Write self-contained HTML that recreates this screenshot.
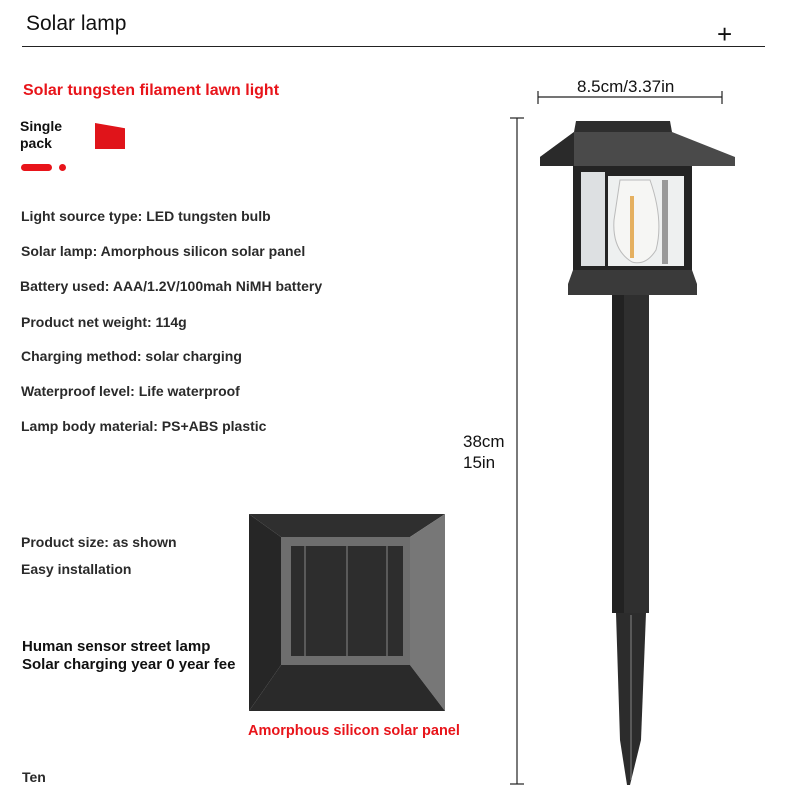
<!DOCTYPE html>
<html><head><meta charset="utf-8"><style>
body{margin:0;background:#fff;}
#c{position:relative;width:800px;height:800px;overflow:hidden;font-family:"Liberation Sans",sans-serif;}
.t{position:absolute;white-space:nowrap;color:#222;font-size:14px;font-weight:bold;}
.s{font-family:"Liberation Sans",sans-serif;font-size:14px;font-weight:bold;color:#2a2a2a;}
</style></head><body><div id="c">
<div class="t" style="left:26px;top:12px;font-size:21px;font-weight:normal;color:#111">Solar lamp</div>
<div style="position:absolute;left:22px;top:46px;width:743px;height:1px;background:#222"></div>
<div class="t" style="left:717px;top:19px;font-size:26px;font-weight:normal;color:#111">+</div>
<div class="t s" style="left:23px;top:82px;color:#e8141a;font-size:16px">Solar tungsten filament lawn light</div>
<div class="t s" style="left:20px;top:118px;color:#111;line-height:17px;font-size:14px">Single<br>pack</div>
<div style="position:absolute;left:95px;top:123px;width:30px;height:26px;background:#e0141a;clip-path:polygon(0 0,100% 20%,100% 100%,0 100%)"></div>
<div style="position:absolute;left:21px;top:164px;width:31px;height:7px;border-radius:4px;background:#e8141a"></div>
<div style="position:absolute;left:59px;top:164px;width:7px;height:7px;border-radius:4px;background:#e8141a"></div>
<div class="t s" style="left:21px;top:208px">Light source type: LED tungsten bulb</div>
<div class="t s" style="left:21px;top:243px">Solar lamp: Amorphous silicon solar panel</div>
<div class="t s" style="left:20px;top:278px">Battery used: AAA/1.2V/100mah NiMH battery</div>
<div class="t s" style="left:21px;top:314px">Product net weight: 114g</div>
<div class="t s" style="left:21px;top:348px">Charging method: solar charging</div>
<div class="t s" style="left:21px;top:383px">Waterproof level: Life waterproof</div>
<div class="t s" style="left:21px;top:418px">Lamp body material: PS+ABS plastic</div>
<div class="t s" style="left:21px;top:534px">Product size: as shown</div>
<div class="t s" style="left:21px;top:561px">Easy installation</div>
<div class="t" style="left:22px;top:638px;font-size:15px;color:#111">Human sensor street lamp</div>
<div class="t" style="left:22px;top:656px;font-size:15px;color:#111">Solar charging year 0 year fee</div>
<div class="t s" style="left:248px;top:723px;color:#e8141a;font-size:14.5px">Amorphous silicon solar panel</div>
<div class="t s" style="left:22px;top:769px">Ten</div>
<div class="t" style="left:577px;top:77px;font-size:17px;font-weight:normal;color:#111">8.5cm/3.37in</div>
<div class="t" style="left:463px;top:431px;font-size:17px;font-weight:normal;color:#111;line-height:21px">38cm<br>15in</div>
<svg width="800" height="800" style="position:absolute;left:0;top:0">
<g stroke="#222" stroke-width="1.2">
<line x1="538" y1="97" x2="722" y2="97"/><line x1="538" y1="91" x2="538" y2="104"/><line x1="722" y1="91" x2="722" y2="104"/>
<line x1="517" y1="118" x2="517" y2="784"/><line x1="510" y1="118" x2="524" y2="118"/><line x1="510" y1="784" x2="524" y2="784"/>
</g>
<polygon points="576,121 670,121 672,132 574,132" fill="#2e2e2e"/>
<polygon points="574,132 672,132 735,157 735,166 540,166 540,157" fill="#4a4a4a"/>
<polygon points="540,157 574,132 574,166 540,166" fill="#2a2a2a"/>
<rect x="573" y="166" width="119" height="104" fill="#242424"/>
<rect x="581" y="172" width="24" height="94" fill="#dde0e2"/>
<rect x="608" y="176" width="76" height="90" fill="#eef0f0"/>
<path d="M620,180 L650,180 Q664,220 656,250 Q646,266 632,262 Q612,250 614,220 Z" fill="#f6f6f4" stroke="#bbb"/>
<rect x="630" y="196" width="4" height="62" fill="#e5b060"/>
<rect x="662" y="180" width="6" height="84" fill="#999"/>
<polygon points="573,270 692,270 697,284 697,295 568,295 568,284" fill="#3a3a3a"/>
<rect x="612" y="295" width="37" height="318" fill="#2f2f2f"/>
<rect x="612" y="295" width="12" height="318" fill="#222"/>
<polygon points="616,613 646,613 641,740 630,785 627,785 620,740" fill="#2c2c2c"/>
<line x1="631" y1="615" x2="631" y2="780" stroke="#777" stroke-width="1.2"/>
<polygon points="249,514 445,514 410,537 281,537" fill="#2f2f2f"/>
<polygon points="249,514 281,537 281,665 249,711" fill="#262626"/>
<polygon points="445,514 445,711 410,665 410,537" fill="#777"/>
<polygon points="249,711 281,665 410,665 445,711" fill="#2a2a2a"/>
<rect x="281" y="537" width="129" height="128" fill="#6e6e6e"/>
<rect x="291" y="546" width="112" height="110" fill="#2d2d2d"/>
<g stroke="#888" stroke-width="1"><line x1="305" y1="546" x2="305" y2="656"/><line x1="347" y1="546" x2="347" y2="656"/><line x1="387" y1="546" x2="387" y2="656"/></g>
</svg>
</div></body></html>
